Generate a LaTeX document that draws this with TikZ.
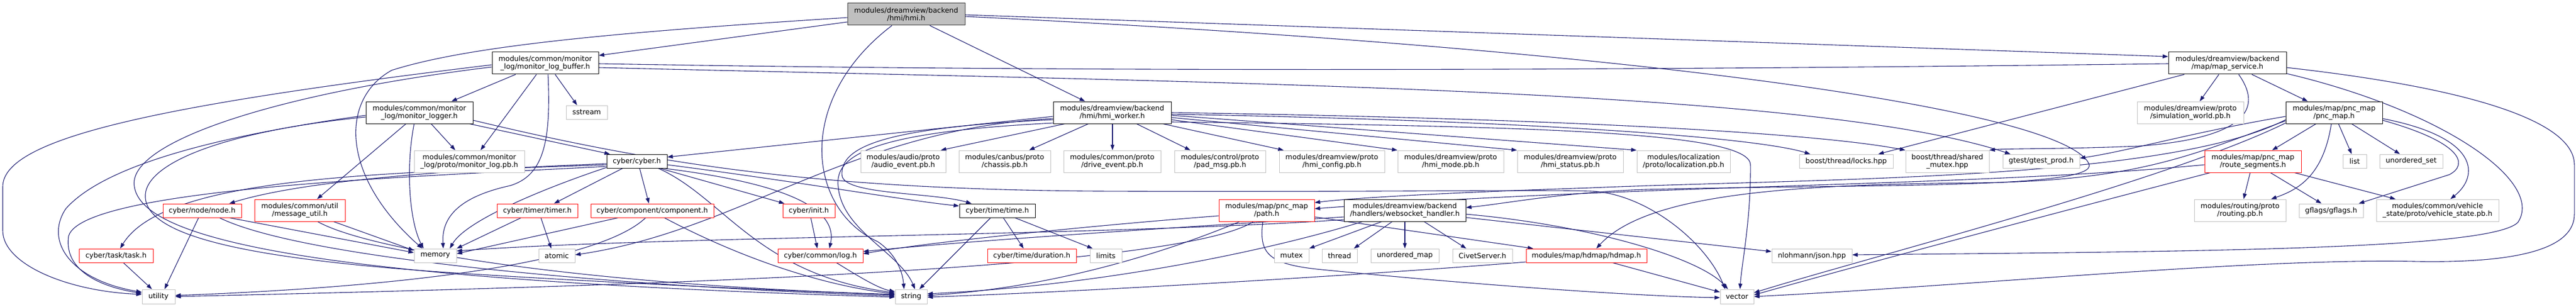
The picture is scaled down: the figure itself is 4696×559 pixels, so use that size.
\documentclass[tikz,border=0pt]{standalone}
\usepackage{fontspec}
\setmainfont{DejaVu Sans}
\usetikzlibrary{arrows.meta}
\definecolor{edgec}{HTML}{191970}
\definecolor{gborder}{HTML}{BFBFBF}
\definecolor{rootfill}{HTML}{BFBFBF}
\newcommand\gfnt{\fontsize{12.9}{14.3}\selectfont}
\pgfdeclarelayer{bgl}
\pgfdeclarelayer{edgel}
\pgfsetlayers{bgl,edgel,main}
\tikzset{
  box/.style={rectangle, line width=1pt, inner sep=0pt, align=center, font=\gfnt, text=black, fill=white},
  gb/.style={box, draw=gborder},
  rb/.style={box, draw=red},
  bb/.style={box, draw=black},
  rootbox/.style={box, draw=black!80, fill=rootfill},
  one/.style={minimum height=25pt},
  two/.style={minimum height=40pt},
  e/.style={draw=edgec, line width=1.1pt, -{Triangle[length=10pt,width=7pt]}},
  ne/.style={draw=edgec, line width=1.1pt},
}
\begin{document}
\begin{tikzpicture}[x=1pt,y=-1pt]
\begin{pgfonlayer}{bgl}
\fill[white] (0,0) rectangle (4696,559);
\end{pgfonlayer}
\useasboundingbox (0,0) rectangle (4696,559);
% ---------------- nodes ----------------
\node[rootbox,two,minimum width=214pt] (hmi) at (1652,26) {modules/dreamview/backend\\/hmi/hmi.h};
\node[bb,two,minimum width=194pt] (mlb) at (994,115) {modules/common/monitor\\\_log/monitor\_log\_buffer.h};
\node[bb,two,minimum width=195pt] (mlogger) at (764.5,205) {modules/common/monitor\\\_log/monitor\_logger.h};
\node[gb,two,minimum width=201pt] (mlpb) at (855.5,294) {modules/common/monitor\\\_log/proto/monitor\_log.pb.h};
\node[gb,one,minimum width=75pt] (sstream) at (1069.5,204.5) {sstream};
\node[bb,one,minimum width=110pt] (cyber) at (1161,293.5) {cyber/cyber.h};
\node[gb,two,minimum width=155pt] (audio) at (1646.5,294) {modules/audio/proto\\/audio\_event.pb.h};
\node[gb,two,minimum width=167pt] (chassis) at (1831.5,294) {modules/canbus/proto\\/chassis.pb.h};
\node[gb,two,minimum width=177pt] (drive) at (2027.5,294) {modules/common/proto\\/drive\_event.pb.h};
\node[gb,two,minimum width=166pt] (pad) at (2224,294) {modules/control/proto\\/pad\_msg.pb.h};
\node[gb,two,minimum width=192pt] (hmicfg) at (2428,294) {modules/dreamview/proto\\/hmi\_config.pb.h};
\node[gb,two,minimum width=193pt] (hmimode) at (2644.5,294) {modules/dreamview/proto\\/hmi\_mode.pb.h};
\node[gb,two,minimum width=193pt] (hmistatus) at (2862.5,294) {modules/dreamview/proto\\/hmi\_status.pb.h};
\node[gb,two,minimum width=170pt] (loc) at (3069,294) {modules/localization\\/proto/localization.pb.h};
\node[gb,one,minimum width=171pt] (locks) at (3365.5,293.5) {boost/thread/locks.hpp};
\node[gb,two,minimum width=152pt] (shmutex) at (3550,294) {boost/thread/shared\\\_mutex.hpp};
\node[gb,one,minimum width=140pt] (gtest) at (3721,293.5) {gtest/gtest\_prod.h};
\node[bb,two,minimum width=215pt] (mapsvc) at (4060.5,115) {modules/dreamview/backend\\/map/map\_service.h};
\node[gb,two,minimum width=194pt] (simw) at (3993,205) {modules/dreamview/proto\\/simulation\_world.pb.h};
\node[bb,two,minimum width=176pt] (pncmap) at (4255,205) {modules/map/pnc\_map\\/pnc\_map.h};
\node[rb,two,minimum width=176pt] (routeseg) at (4107,294) {modules/map/pnc\_map\\/route\_segments.h};
\node[gb,one,minimum width=43pt] (list) at (4292.5,293.5) {list};
\node[gb,one,minimum width=115pt] (uset) at (4395.5,293.5) {unordered\_set};
\node[gb,two,minimum width=167pt] (routing) at (4083.5,383) {modules/routing/proto\\/routing.pb.h};
\node[gb,one,minimum width=117pt] (gflags) at (4249.5,383.5) {gflags/gflags.h};
\node[gb,two,minimum width=223pt] (vstate) at (4443.5,383) {modules/common/vehicle\\\_state/proto/vehicle\_state.pb.h};
\node[bb,two,minimum width=215pt] (worker) at (2027.5,205) {modules/dreamview/backend\\/hmi/hmi\_worker.h};
\node[bb,one,minimum width=138pt] (time) at (1818,383.5) {cyber/time/time.h};
\node[rb,one,minimum width=162pt] (duration) at (1881,465.5) {cyber/time/duration.h};
\node[gb,one,minimum width=58pt] (limits) at (2016,465.5) {limits};
\node[rb,two,minimum width=174pt] (path) at (2309,383) {modules/map/pnc\_map\\/path.h};
\node[bb,two,minimum width=222pt] (ws) at (2561,383) {modules/dreamview/backend\\/handlers/websocket\_handler.h};
\node[gb,one,minimum width=63pt] (mutex) at (2354.5,465.5) {mutex};
\node[gb,one,minimum width=64pt] (thread) at (2442,465.5) {thread};
\node[gb,one,minimum width=124pt] (umap) at (2561,465.5) {unordered\_map};
\node[gb,one,minimum width=109pt] (civet) at (2702.5,465.5) {CivetServer.h};
\node[rb,one,minimum width=220pt] (hdmap) at (2892,465.5) {modules/map/hdmap/hdmap.h};
\node[gb,one,minimum width=61pt,minimum height=26pt] (vector) at (3166.5,540) {vector};
\node[gb,one,minimum width=146pt] (json) at (3303,465.5) {nlohmann/json.hpp};
\node[gb,one,minimum width=77pt] (memory) at (793.5,465.5) {memory};
\node[gb,one,minimum width=66pt] (atomic) at (1015,465.5) {atomic};
\node[rb,one,minimum width=147pt] (timer) at (979.5,383.5) {cyber/timer/timer.h};
\node[rb,one,minimum width=224pt] (component) at (1189,383.5) {cyber/component/component.h};
\node[rb,one,minimum width=95pt] (init) at (1474.5,383.5) {cyber/init.h};
\node[rb,one,minimum width=155pt] (log) at (1495.5,465.5) {cyber/common/log.h};
\node[rb,one,minimum width=143pt] (node) at (368.5,383.5) {cyber/node/node.h};
\node[rb,two,minimum width=165pt] (msgutil) at (546.5,383) {modules/common/util\\/message\_util.h};
\node[rb,one,minimum width=135pt] (task) at (211.5,465.5) {cyber/task/task.h};
\node[gb,one,minimum width=60pt,minimum height=26pt] (utility) at (289,540) {utility};
\node[gb,one,minimum width=58pt,minimum height=26pt] (string) at (1661,540) {string};
% ---------------- edges ----------------
\begin{pgfonlayer}{edgel}
% hmi.h
\draw[e] (hmi.west |- 0,40) -- (mlb.east |- 0,101);
\draw[e] (hmi.west |- 0,32) .. controls (1100,60) and (850,85) .. (714,128) .. controls (620,180) and (620,320) .. (memory.north -| 770,0);
\draw[e] (hmi.south -| 1626,0) .. controls (1450,180) and (1470,380) .. (1600,440) .. controls (1630,460) and (1645,490) .. (string.north -| 1648,0);
\draw[e] (hmi.south -| 1695,0) -- (worker.north -| 1978,0);
\draw[e] (hmi.east |- 0,27) -- (mapsvc.west |- 0,103);
\draw[e] (hmi.east |- 0,30) .. controls (3000,90) and (3760,200) .. (3808,298) .. controls (3830,345) and (3400,335) .. (3000,345) .. controls (2850,350) and (2750,370) .. (ws.east |- 0,378);
% monitor_log_buffer.h
\draw[e] (mlb.south -| 940,0) -- (mlogger.north -| 823,0);
\draw[e] (mlb.south -| 978,0) -- (mlpb.north -| 876,0);
\draw[e] (mlb.south -| 1012,0) -- (sstream.north -| 1052,0);
\draw[e] (mlb.south -| 999,0) .. controls (1005,260) and (990,320) .. (930,338) .. controls (830,360) and (805,400) .. (memory.north -| 808,0);
\draw[e] (mlb.west |- 0,118) .. controls (300,190) and (5,250) .. (5,340) -- (5,420) .. controls (5,480) and (120,530) .. (utility.west |- 0,536);
\draw[e] (mlb.west |- 0,122) .. controls (500,170) and (230,260) .. (245,340) .. controls (260,440) and (600,510) .. (string.west |- 0,541);
\draw[e] (mlb.east |- 0,123) .. controls (2200,150) and (3300,160) .. (gtest.north -| 3665,0);
\draw[ne] (mlb.east |- 0,116) .. controls (2000,132) and (3000,128) .. (mapsvc.west |- 0,116);
% monitor_logger.h
\draw[e] (mlogger.south -| 740,0) -- (msgutil.north -| 578,0);
\draw[e] (mlogger.south -| 755,0) .. controls (740,300) and (745,400) .. (memory.north -| 772,0);
\draw[e] (mlogger.south -| 786,0) -- (mlpb.north -| 830,0);
\draw[e] (mlogger.south -| 856,0) -- (cyber.north -| 1112,0);
\draw[e] (mlogger.west |- 0,210) .. controls (450,240) and (200,290) .. (120,380) .. controls (80,440) and (130,510) .. (utility.west |- 0,532);
\draw[e] (mlogger.west |- 0,213) .. controls (400,240) and (260,300) .. (265,360) .. controls (270,430) and (450,470) .. (800,495) .. controls (1100,515) and (1450,530) .. (string.west |- 0,537);
\draw[e] (mlogger.east |- 0,219) .. controls (1200,300) and (1500,345) .. (2000,348) .. controls (2500,350) and (2800,345) .. (2900,348) .. controls (3000,352) and (3110,440) .. (vector.north -| 3145,0);
% cyber.h
\draw[e] (cyber.south -| 1135,0) -- (timer.north -| 1010,0);
\draw[e] (cyber.south -| 1166,0) -- (component.north -| 1183,0);
\draw[e] (cyber.south -| 1203,0) -- (init.north -| 1430,0);
\draw[e] (cyber.south -| 1210,0) .. controls (1400,330) and (1530,370) .. (log.north -| 1512,0);
\draw[e] (cyber.west |- 0,298) .. controls (800,310) and (550,330) .. (node.north -| 418,0);
\draw[e] (cyber.west |- 0,300) .. controls (700,315) and (300,320) .. (task.north -| 219,0);
\draw[e] (cyber.east |- 0,300) .. controls (1450,330) and (1650,365) .. (time.west |- 0,375);
\draw[e] (cyber.west |- 0,305) .. controls (1000,340) and (850,400) .. (memory.north -| 820,0);
\draw[e] (cyber.south -| 1200,0) .. controls (1320,360) and (1380,500) .. (string.west |- 0,533);
\draw[e] (cyber.west |- 0,303) .. controls (800,320) and (150,340) .. (125,430) .. controls (115,500) and (200,525) .. (utility.west |- 0,534);
% timer, component, init, log
\draw[e] (timer.south -| 950,0) -- (memory.north east);
\draw[e] (timer.south -| 986,0) -- (atomic.north -| 1005,0);
\draw[e] (component.south -| 1127,0) -- (memory.east |- 0,462);
\draw[e] (component.south -| 1177,0) .. controls (1100,470) and (800,520) .. (utility.east |- 0,538);
\draw[e] (component.south -| 1211,0) .. controls (1350,470) and (1500,520) .. (string.west |- 0,535);
\draw[e] (init.south -| 1478,0) -- (log.north -| 1490,0);
\draw[e] (log.south -| 1525,0) .. controls (1560,500) and (1600,525) .. (string.west |- 0,531);
% node, message_util, task
\draw[e] (node.south -| 362,0) -- (utility.north -| 300,0);
\draw[e] (node.south -| 418,0) -- (memory.west |- 0,460);
\draw[e] (node.south -| 400,0) .. controls (550,470) and (1100,520) .. (string.west |- 0,539);
\draw[e] (msgutil.south -| 608,0) -- (memory.west |- 0,456);
\draw[e] (msgutil.south -| 579,0) .. controls (680,460) and (1100,520) .. (string.west |- 0,536);
\draw[e] (task.south -| 225,0) -- (utility.north -| 277,0);
% time.h
\draw[e] (time.south -| 1806,0) -- (string.north -| 1676,0);
\draw[e] (time.south -| 1829,0) -- (duration.north -| 1866,0);
\draw[e] (time.south -| 1850,0) -- (limits.north -| 1992,0);
% hmi_worker.h
\draw[e] (worker.south -| 1941,0) -- (audio.north -| 1715,0);
\draw[e] (worker.south -| 1984,0) -- (chassis.north -| 1876,0);
\draw[e] (worker.south -| 2028,0) -- (drive.north -| 2028,0);
\draw[e] (worker.south -| 2072,0) -- (pad.north -| 2170,0);
\draw[e] (worker.south -| 2120,0) -- (hmicfg.north -| 2340,0);
\draw[e] (worker.east |- 0,218) -- (hmimode.north west);
\draw[e] (worker.east |- 0,214) -- (hmistatus.north west);
\draw[e] (worker.east |- 0,210) -- (loc.north west);
\draw[e] (worker.east |- 0,208) .. controls (2800,220) and (3200,250) .. (locks.north -| 3300,0);
\draw[e] (worker.east |- 0,205) .. controls (2800,215) and (3300,240) .. (shmutex.north west);
\draw[e] (worker.west |- 0,212) -- (cyber.east |- 0,286);
\draw[e] (worker.west |- 0,218) .. controls (1620,232) and (1530,265) .. (1535,320) .. controls (1540,355) and (1700,350) .. (time.north -| 1771,0);
\draw[e] (worker.west |- 0,216) .. controls (1550,235) and (1350,420) .. (atomic.east |- 0,464);
\draw[e] (worker.west |- 0,224) .. controls (1600,240) and (1520,280) .. (1528,340) .. controls (1535,420) and (1640,460) .. (string.north -| 1668,0);
\draw[e] (worker.east |- 0,222) .. controls (2800,230) and (3190,240) .. (3191,300) .. controls (3192,400) and (3175,480) .. (vector.north -| 3172,0);
% websocket_handler.h
\draw[e] (ws.south -| 2519,0) -- (mutex.north east);
\draw[e] (ws.south -| 2538,0) -- (thread.north -| 2468,0);
\draw[e] (ws.south -| 2561,0) -- (umap.north -| 2561,0);
\draw[e] (ws.south -| 2596,0) -- (civet.north -| 2673,0);
\draw[e] (ws.west |- 0,400) .. controls (2000,430) and (1200,430) .. (memory.east |- 0,457);
\draw[e] (ws.south -| 2484,0) .. controls (2300,460) and (2000,520) .. (string.east |- 0,535);
\draw[e] (ws.west |- 0,395) .. controls (2050,420) and (1750,440) .. (log.east |- 0,458);
\draw[e] (ws.east |- 0,396) -- (json.west |- 0,458);
\draw[e] (ws.east |- 0,390) .. controls (2900,410) and (3100,470) .. (vector.north -| 3150,0);
% path.h
\draw[e] (path.south -| 2260,0) .. controls (2100,470) and (1900,525) .. (string.east |- 0,538);
\draw[e] (path.south -| 2285,0) .. controls (2150,490) and (1200,520) .. (utility.east |- 0,540);
\draw[e] (path.south -| 2302,0) .. controls (2295,460) and (2310,480) .. (2400,490) .. controls (2700,520) and (3000,540) .. (vector.west |- 0,542);
\draw[e] (path.west |- 0,393) .. controls (2000,410) and (1700,440) .. (log.east |- 0,462);
\draw[e] (path.east |- 0,395) -- (hdmap.north -| 2795,0);
% hdmap.h
\draw[e] (hdmap.west |- 0,477) .. controls (2500,500) and (2000,530) .. (string.east |- 0,541);
\draw[e] (hdmap.south -| 2940,0) -- (vector.west |- 0,532);
% map_service.h
\draw[e] (mapsvc.south -| 4045,0) -- (simw.north -| 4010,0);
\draw[e] (mapsvc.south -| 4105,0) -- (pncmap.north -| 4207,0);
\draw[e] (mapsvc.south -| 3982,0) -- (locks.north -| 3424,0);
\draw[e] (mapsvc.south -| 4081,0) .. controls (4120,190) and (4110,250) .. (3900,266) .. controls (3750,272) and (3660,270) .. (shmutex.north east);
\draw[e] (mapsvc.east |- 0,123) .. controls (4500,160) and (4693,220) .. (4693,300) -- (4693,390) .. controls (4693,450) and (4600,480) .. (4400,476) .. controls (4100,470) and (3600,520) .. (vector.east |- 0,540);
\draw[e] (mapsvc.east |- 0,134) .. controls (4450,200) and (4640,330) .. (4590,405) .. controls (4540,455) and (4000,458) .. (json.east |- 0,464);
% pnc_map.h
\draw[e] (pncmap.south -| 4222,0) -- (routeseg.north -| 4142,0);
\draw[e] (pncmap.south -| 4250,0) .. controls (4235,320) and (4190,345) .. (routing.north -| 4140,0);
\draw[e] (pncmap.south -| 4263,0) -- (list.north -| 4287,0);
\draw[e] (pncmap.south -| 4287,0) -- (uset.north -| 4375,0);
\draw[e] (pncmap.east |- 0,219) .. controls (4490,260) and (4500,300) .. (4465,318) -- (gflags.north -| 4300,0);
\draw[e] (pncmap.east |- 0,216) .. controls (4520,250) and (4520,320) .. (vstate.north -| 4467,0);
\draw[e] (pncmap.west |- 0,220) .. controls (4000,280) and (3900,330) .. (3600,333) .. controls (3250,336) and (3000,355) .. (hdmap.north -| 2910,0);
\draw[e] (pncmap.west |- 0,218) .. controls (3950,330) and (3300,325) .. (2900,342) .. controls (2600,352) and (2450,362) .. (path.east |- 0,369);
\draw[e] (pncmap.west |- 0,212) .. controls (4000,240) and (3880,275) .. (gtest.east |- 0,288);
\draw[e] (pncmap.west |- 0,224) .. controls (3950,330) and (3400,470) .. (vector.east |- 0,533);
% route_segments.h
\draw[e] (routeseg.south -| 4102,0) -- (routing.north -| 4090,0);
\draw[e] (routeseg.south -| 4139,0) -- (gflags.north -| 4232,0);
\draw[e] (routeseg.south -| 4183,0) -- (vstate.north -| 4367,0);
\draw[e] (routeseg.south -| 4029,0) .. controls (3700,400) and (3400,480) .. (vector.east |- 0,537);
\draw[e] (routeseg.west |- 0,300) .. controls (3600,340) and (3000,335) .. (path.east |- 0,380);
\end{pgfonlayer}
\end{tikzpicture}
\end{document}
